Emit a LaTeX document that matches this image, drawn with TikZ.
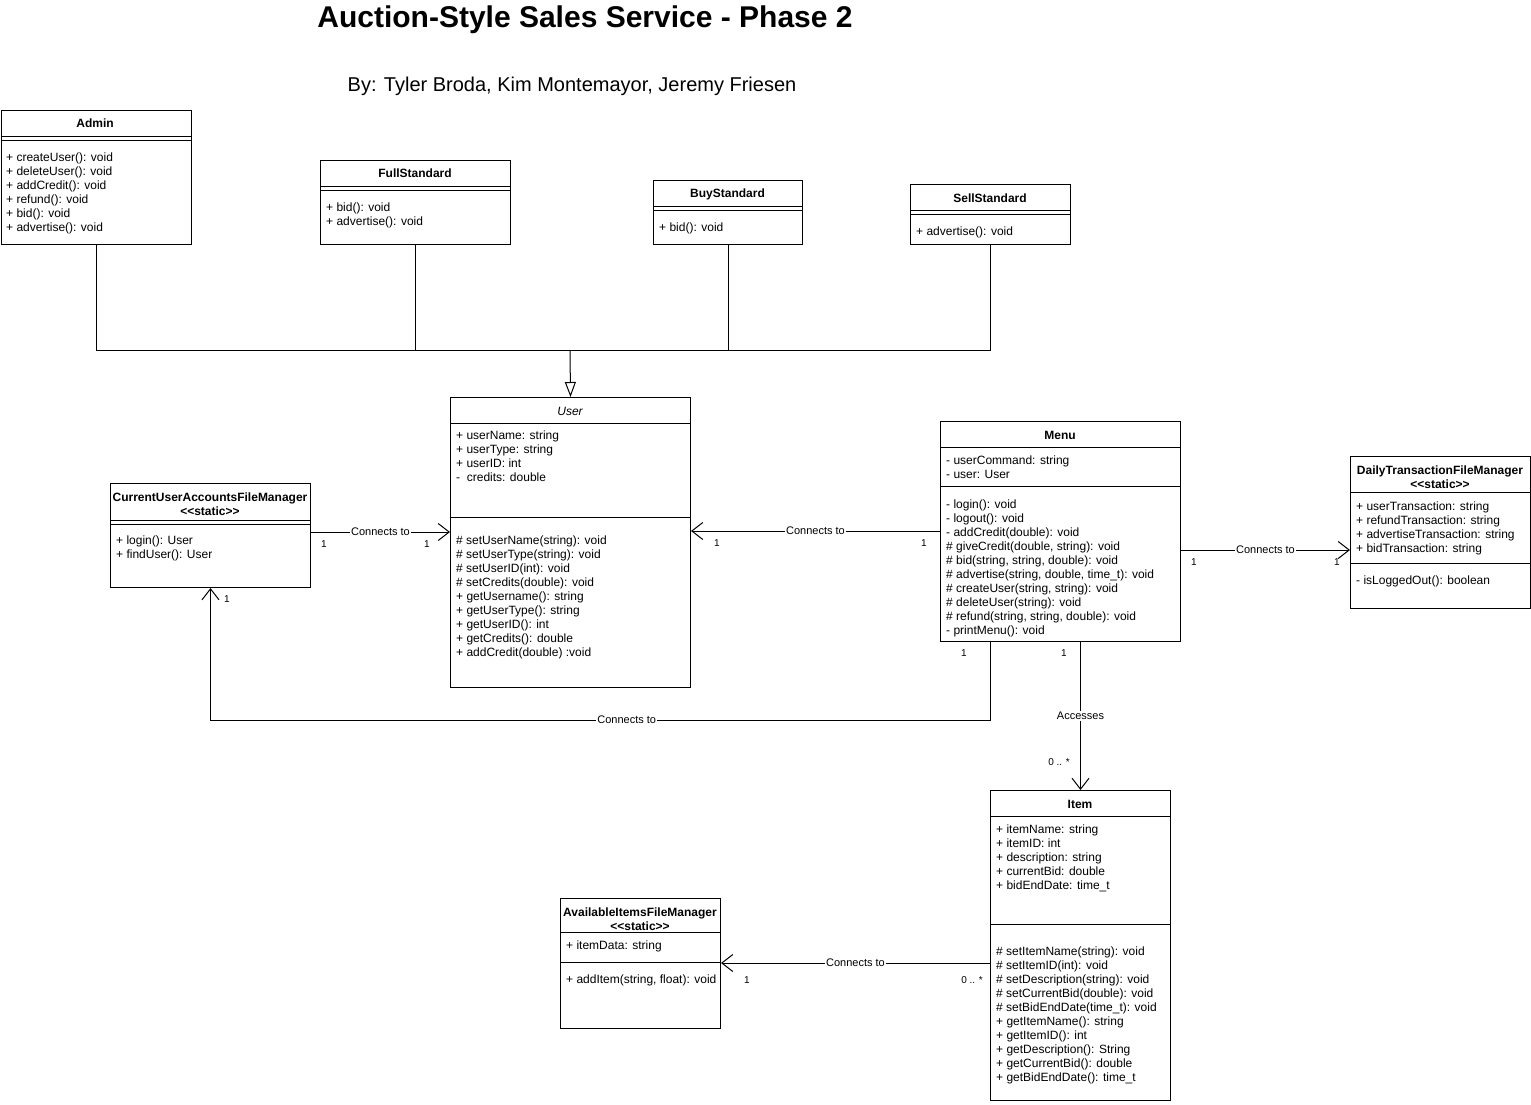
\documentclass[tikz,border=0pt]{standalone}
\usepackage{fontspec}
\setmainfont{Liberation Sans}
\usetikzlibrary{arrows.meta,calc}

\newcommand{\stereo}[1]{<\kern0pt<#1>\kern0pt>}

\tikzset{
    classbox/.style={draw,line width=1pt,anchor=north west,inner sep=0pt,fill=white},
    hdr/.style={font=\bfseries\fontsize{12}{14}\selectfont,align=center,inner sep=0pt},
    mbr/.style={font=\fontsize{12}{14}\selectfont,align=left,anchor=north west,inner sep=0pt},
    mult/.style={font=\fontsize{10}{12}\selectfont,inner sep=0pt},
    lbl/.style={font=\fontsize{11}{13}\selectfont,fill=white,inner sep=1pt},
    sep/.style={line width=1pt},
    assoc/.style={line width=1pt,-{Straight Barb[length=11pt,width=17pt,line width=1pt]}},
    inherit/.style={line width=1pt,-{Triangle[open,length=15pt,width=11pt,line width=1pt,fill=white]}}
}

\begin{document}
\begin{tikzpicture}[x=1pt,y=-1pt]
\fill[white] (0,0) rectangle (1531,1104);
\useasboundingbox (0,0) rectangle (1531,1104);

\node (title) at (585,20) {\fontsize{30}{36}\selectfont\bfseries Auction-Style Sales Service - Phase 2};
\node (authors) at (572,86) {\fontsize{20}{24}\selectfont By: Tyler Broda, Kim Montemayor, Jeremy Friesen};

% subclasses
\node[classbox,minimum width=190pt,minimum height=134pt] (admin) at (0.5,110) {};
\node[hdr] (adminT) at (95,123) {Admin};
\draw[sep] (admin.west |- 0,136) -- (admin.east |- 0,136) (admin.west |- 0,140) -- (admin.east |- 0,140);
\node[mbr] (adminM) at (6,153) {+ createUser(): void\\+ deleteUser(): void\\+ addCredit(): void\\+ refund(): void\\+ bid(): void\\+ advertise(): void};

\node[classbox,minimum width=190pt,minimum height=84pt] (full) at (320,160) {};
\node[hdr] (fullT) at (415,173) {FullStandard};
\draw[sep] (full.west |- 0,186) -- (full.east |- 0,186) (full.west |- 0,190) -- (full.east |- 0,190);
\node[mbr] (fullM) at (326,203) {+ bid(): void\\+ advertise(): void};

\node[classbox,minimum width=149pt,minimum height=64pt] (buy) at (653,180) {};
\node[hdr] (buyT) at (727.5,194) {BuyStandard};
\draw[sep] (buy.west |- 0,206) -- (buy.east |- 0,206) (buy.west |- 0,210) -- (buy.east |- 0,210);
\node[mbr] (buyM) at (659,223) {+ bid(): void};

\node[classbox,minimum width=160pt,minimum height=60pt] (sell) at (910,184) {};
\node[hdr] (sellT) at (990,198) {SellStandard};
\draw[sep] (sell.west |- 0,210) -- (sell.east |- 0,210) (sell.west |- 0,214) -- (sell.east |- 0,214);
\node[mbr] (sellM) at (916,227) {+ advertise(): void};

% User
\node[classbox,minimum width=240pt,minimum height=290pt] (user) at (450,397) {};
\node[hdr,font=\itshape\fontsize{12}{14}\selectfont] (userT) at (570,411) {User};
\draw[sep] (user.west |- 0,423) -- (user.east |- 0,423) (user.west |- 0,517) -- (user.east |- 0,517);
\node[mbr] (userA) at (456,431) {+ userName: string\\+ userType: string\\+ userID: int\\-\ \ credits: double};
\node[mbr] (userM) at (456,536) {\# setUserName(string): void\\\# setUserType(string): void\\\# setUserID(int): void\\\# setCredits(double): void\\+ getUsername(): string\\+ getUserType(): string\\+ getUserID(): int\\+ getCredits(): double\\+ addCredit(double) :void};

% file managers
\node[classbox,minimum width=200pt,minimum height=104pt] (cuafm) at (110,483) {};
\node[hdr] (cuafmT) at (210,504) {CurrentUserAccountsFileManager\\\stereo{static}};
\draw[sep] (cuafm.west |- 0,520) -- (cuafm.east |- 0,520) (cuafm.west |- 0,524) -- (cuafm.east |- 0,524);
\node[mbr] (cuafmM) at (116,536) {+ login(): User\\+ findUser(): User};

\node[classbox,minimum width=180pt,minimum height=152pt] (dtfm) at (1350,456) {};
\node[hdr] (dtfmT) at (1440,477) {DailyTransactionFileManager\\\stereo{static}};
\draw[sep] (dtfm.west |- 0,492) -- (dtfm.east |- 0,492) (dtfm.west |- 0,563) -- (dtfm.east |- 0,563);
\node[mbr] (dtfmA) at (1356,502) {+ userTransaction: string\\+ refundTransaction: string\\+ advertiseTransaction: string\\+ bidTransaction: string};
\node[mbr] (dtfmM) at (1356,576) {- isLoggedOut(): boolean};

\node[classbox,minimum width=160pt,minimum height=130pt] (aifm) at (560,898) {};
\node[hdr] (aifmT) at (640,919) {AvailableItemsFileManager\\\stereo{static}};
\draw[sep] (aifm.west |- 0,932) -- (aifm.east |- 0,932) (aifm.west |- 0,962) -- (aifm.east |- 0,962);
\node[mbr] (aifmA) at (566,941) {+ itemData: string};
\node[mbr] (aifmM) at (566,975) {+ addItem(string, float): void};

% Menu
\node[classbox,minimum width=240pt,minimum height=220pt] (menu) at (940,421) {};
\node[hdr] (menuT) at (1060,435) {Menu};
\draw[sep] (menu.west |- 0,447) -- (menu.east |- 0,447) (menu.west |- 0,486) -- (menu.east |- 0,486);
\node[mbr] (menuA) at (946,456) {- userCommand: string\\- user: User};
\node[mbr] (menuM) at (946,500) {- login(): void\\- logout(): void\\- addCredit(double): void\\\# giveCredit(double, string): void\\\# bid(string, string, double): void\\\# advertise(string, double, time\_t): void\\\# createUser(string, string): void\\\# deleteUser(string): void\\\# refund(string, string, double): void\\- printMenu(): void};

% Item
\node[classbox,minimum width=180pt,minimum height=310pt] (item) at (990,790) {};
\node[hdr] (itemT) at (1080,804) {Item};
\draw[sep] (item.west |- 0,816) -- (item.east |- 0,816) (item.west |- 0,924) -- (item.east |- 0,924);
\node[mbr] (itemA) at (996,825) {+ itemName: string\\+ itemID: int\\+ description: string\\+ currentBid: double\\+ bidEndDate: time\_t};
\node[mbr] (itemM) at (996,947) {\# setItemName(string): void\\\# setItemID(int): void\\\# setDescription(string): void\\\# setCurrentBid(double): void\\\# setBidEndDate(time\_t): void\\+ getItemName(): string\\+ getItemID(): int\\+ getDescription(): String\\+ getCurrentBid(): double\\+ getBidEndDate(): time\_t};

% inheritance
\coordinate (join) at (570,350);
\draw[sep] (admin.south) |- (sell.south |- join) -- (sell.south);
\draw[sep] (full.south) -- (full.south |- join);
\draw[sep] (buy.south) -- (buy.south |- join);
\draw[inherit] (join) -- (user.north);

% associations
\draw[assoc] (cuafm.east |- 0,532) -- node[lbl] (c1) {Connects to} (user.west |- 0,532);
\node[mult] (c1a) at (324,544) {1};
\node[mult] (c1b) at (427,544) {1};

\draw[assoc] (menu.west |- 0,531) -- node[lbl] (c2) {Connects to} (user.east |- 0,531);
\node[mult] (c2a) at (717,543) {1};
\node[mult] (c2b) at (924,543) {1};

\draw[assoc] (menu.east |- 0,550) -- node[lbl] (c3) {Connects to} (dtfm.west |- 0,550);
\node[mult] (c3a) at (1194,562) {1};
\node[mult] (c3b) at (1337,562) {1};

\coordinate (turn) at (990,720);
\draw[assoc] (menu.south -| turn) -- (turn) -| node[lbl,pos=0.233] (c4) {Connects to} (cuafm.south);
\node[mult] (c4a) at (964,653) {1};
\node[mult] (c4b) at (227,599) {1};

\draw[assoc] (menu.south -| item.north) -- node[lbl] (c5) {Accesses} (item.north);
\node[mult] (c5a) at (1064,653) {1};
\node[mult] (c5b) at (1059,762) {0 .. *};

\draw[assoc] (item.west |- 0,963) -- node[lbl] (c6) {Connects to} (aifm.east |- 0,963);
\node[mult] (c6a) at (747,980) {1};
\node[mult] (c6b) at (972,980) {0 .. *};

\end{tikzpicture}
\end{document}
